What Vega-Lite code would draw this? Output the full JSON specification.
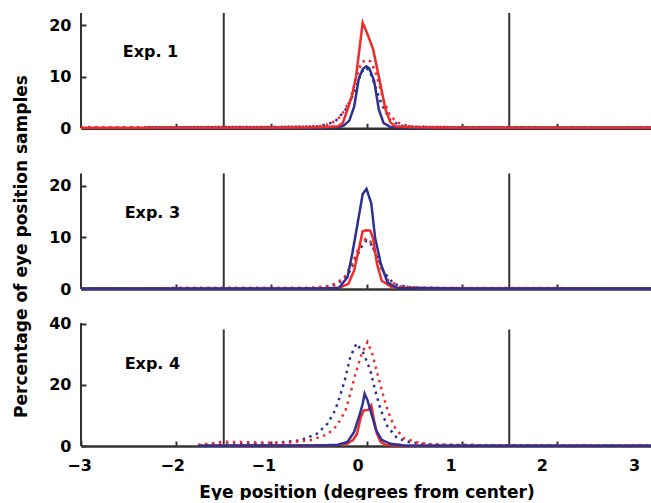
{
  "$schema": "https://vega.github.io/schema/vega-lite/v6.json",
  "padding": {"left": 12, "top": 12, "right": 0, "bottom": 0},
  "bounds": "flush",
  "spacing": 34,
  "resolve": {"scale": {"y": "independent"}},
  "datasets": {
    "rules": [
      {"p": 1, "x": -3, "y0": 0, "y1": 22.35}, {"p": 1, "x": -1.5, "y0": 0, "y1": 22.35}, {"p": 1, "x": 1.5, "y0": 0, "y1": 22.35},
      {"p": 2, "x": -3, "y0": 0, "y1": 22.4}, {"p": 2, "x": -1.5, "y0": 0, "y1": 22.4}, {"p": 2, "x": 1.5, "y0": 0, "y1": 22.4},
      {"p": 3, "x": -3, "y0": 0, "y1": 40.2}, {"p": 3, "x": -1.5, "y0": 0, "y1": 38.1}, {"p": 3, "x": 1.5, "y0": 0, "y1": 38.1}
    ],
    "labels": [
      {"p": 1, "x": -2.27, "y": 14.7, "t": "Exp. 1"},
      {"p": 2, "x": -2.25, "y": 14.8, "t": "Exp. 3"},
      {"p": 3, "x": -2.25, "y": 26.9, "t": "Exp. 4"}
    ],
    "curves": [
      {"p":1,"s":"rs","x":-3,"y":0.1},{"p":1,"s":"rs","x":-1,"y":0.1},{"p":1,"s":"rs","x":-0.5,"y":0.2},{"p":1,"s":"rs","x":-0.3,"y":0.4},{"p":1,"s":"rs","x":-0.25,"y":1},{"p":1,"s":"rs","x":-0.2,"y":3.6},{"p":1,"s":"rs","x":-0.15,"y":6.5},{"p":1,"s":"rs","x":-0.11,"y":10},{"p":1,"s":"rs","x":-0.08,"y":14.5},{"p":1,"s":"rs","x":-0.04,"y":20.5},{"p":1,"s":"rs","x":0.02,"y":17.8},{"p":1,"s":"rs","x":0.07,"y":15.3},{"p":1,"s":"rs","x":0.13,"y":10},{"p":1,"s":"rs","x":0.2,"y":3.6},{"p":1,"s":"rs","x":0.25,"y":1.2},{"p":1,"s":"rs","x":0.3,"y":0.4},{"p":1,"s":"rs","x":0.5,"y":0.2},{"p":1,"s":"rs","x":1,"y":0.1},{"p":1,"s":"rs","x":3,"y":0.1},
      {"p":1,"s":"bs","x":-2.3,"y":0.1},{"p":1,"s":"bs","x":-0.5,"y":0.1},{"p":1,"s":"bs","x":-0.3,"y":0.2},{"p":1,"s":"bs","x":-0.24,"y":0.5},{"p":1,"s":"bs","x":-0.18,"y":1.5},{"p":1,"s":"bs","x":-0.13,"y":4.2},{"p":1,"s":"bs","x":-0.08,"y":9.7},{"p":1,"s":"bs","x":-0.04,"y":11.5},{"p":1,"s":"bs","x":0,"y":12},{"p":1,"s":"bs","x":0.03,"y":11.6},{"p":1,"s":"bs","x":0.08,"y":9.2},{"p":1,"s":"bs","x":0.13,"y":3.6},{"p":1,"s":"bs","x":0.18,"y":1},{"p":1,"s":"bs","x":0.25,"y":0.3},{"p":1,"s":"bs","x":0.4,"y":0.1},{"p":1,"s":"bs","x":3,"y":0.1},
      {"p":1,"s":"rd","x":-3,"y":0.2},{"p":1,"s":"rd","x":-1,"y":0.25},{"p":1,"s":"rd","x":-0.5,"y":0.4},{"p":1,"s":"rd","x":-0.38,"y":0.8},{"p":1,"s":"rd","x":-0.27,"y":2.3},{"p":1,"s":"rd","x":-0.17,"y":5.5},{"p":1,"s":"rd","x":-0.105,"y":10},{"p":1,"s":"rd","x":-0.05,"y":12.8},{"p":1,"s":"rd","x":0,"y":13.3},{"p":1,"s":"rd","x":0.04,"y":13},{"p":1,"s":"rd","x":0.09,"y":11.2},{"p":1,"s":"rd","x":0.18,"y":5.5},{"p":1,"s":"rd","x":0.25,"y":2.3},{"p":1,"s":"rd","x":0.36,"y":0.8},{"p":1,"s":"rd","x":0.5,"y":0.3},{"p":1,"s":"rd","x":1,"y":0.2},{"p":1,"s":"rd","x":3,"y":0.15},
      {"p":1,"s":"bd","x":-2.3,"y":0.2},{"p":1,"s":"bd","x":-1,"y":0.25},{"p":1,"s":"bd","x":-0.5,"y":0.35},{"p":1,"s":"bd","x":-0.33,"y":1.3},{"p":1,"s":"bd","x":-0.22,"y":3.6},{"p":1,"s":"bd","x":-0.13,"y":6.8},{"p":1,"s":"bd","x":-0.06,"y":10.5},{"p":1,"s":"bd","x":-0.02,"y":11.7},{"p":1,"s":"bd","x":0.03,"y":11.3},{"p":1,"s":"bd","x":0.09,"y":8.2},{"p":1,"s":"bd","x":0.16,"y":4.6},{"p":1,"s":"bd","x":0.25,"y":1.6},{"p":1,"s":"bd","x":0.36,"y":0.5},{"p":1,"s":"bd","x":0.5,"y":0.3},{"p":1,"s":"bd","x":1,"y":0.2},{"p":1,"s":"bd","x":3,"y":0.15},

      {"p":2,"s":"bs","x":-3,"y":0.1},{"p":2,"s":"bs","x":-0.5,"y":0.1},{"p":2,"s":"bs","x":-0.29,"y":0.2},{"p":2,"s":"bs","x":-0.2,"y":2.3},{"p":2,"s":"bs","x":-0.15,"y":6.8},{"p":2,"s":"bs","x":-0.1,"y":12},{"p":2,"s":"bs","x":-0.04,"y":18.4},{"p":2,"s":"bs","x":0,"y":19.4},{"p":2,"s":"bs","x":0.05,"y":16.6},{"p":2,"s":"bs","x":0.09,"y":10},{"p":2,"s":"bs","x":0.15,"y":4.9},{"p":2,"s":"bs","x":0.22,"y":1.3},{"p":2,"s":"bs","x":0.32,"y":0.2},{"p":2,"s":"bs","x":1,"y":0.1},{"p":2,"s":"bs","x":3,"y":0.1},
      {"p":2,"s":"rs","x":-3,"y":0.1},{"p":2,"s":"rs","x":-0.5,"y":0.1},{"p":2,"s":"rs","x":-0.28,"y":0.3},{"p":2,"s":"rs","x":-0.19,"y":1},{"p":2,"s":"rs","x":-0.13,"y":3.6},{"p":2,"s":"rs","x":-0.08,"y":7.8},{"p":2,"s":"rs","x":-0.04,"y":11.2},{"p":2,"s":"rs","x":0,"y":11.4},{"p":2,"s":"rs","x":0.04,"y":11.3},{"p":2,"s":"rs","x":0.07,"y":9.7},{"p":2,"s":"rs","x":0.11,"y":4.9},{"p":2,"s":"rs","x":0.16,"y":1.6},{"p":2,"s":"rs","x":0.27,"y":0.3},{"p":2,"s":"rs","x":1,"y":0.1},{"p":2,"s":"rs","x":3,"y":0.1},
      {"p":2,"s":"rd","x":-3,"y":0.15},{"p":2,"s":"rd","x":-0.6,"y":0.2},{"p":2,"s":"rd","x":-0.38,"y":0.6},{"p":2,"s":"rd","x":-0.24,"y":2},{"p":2,"s":"rd","x":-0.15,"y":4.9},{"p":2,"s":"rd","x":-0.08,"y":8.1},{"p":2,"s":"rd","x":-0.01,"y":9.7},{"p":2,"s":"rd","x":0.04,"y":9.2},{"p":2,"s":"rd","x":0.08,"y":7.4},{"p":2,"s":"rd","x":0.15,"y":4.2},{"p":2,"s":"rd","x":0.23,"y":1.6},{"p":2,"s":"rd","x":0.36,"y":0.5},{"p":2,"s":"rd","x":0.6,"y":0.2},{"p":2,"s":"rd","x":3,"y":0.15},
      {"p":2,"s":"bd","x":-3,"y":0.15},{"p":2,"s":"bd","x":-0.5,"y":0.2},{"p":2,"s":"bd","x":-0.31,"y":0.9},{"p":2,"s":"bd","x":-0.2,"y":2.6},{"p":2,"s":"bd","x":-0.12,"y":5.5},{"p":2,"s":"bd","x":-0.06,"y":8},{"p":2,"s":"bd","x":0,"y":9.4},{"p":2,"s":"bd","x":0.05,"y":8.6},{"p":2,"s":"bd","x":0.11,"y":6.5},{"p":2,"s":"bd","x":0.18,"y":3.3},{"p":2,"s":"bd","x":0.29,"y":0.9},{"p":2,"s":"bd","x":0.47,"y":0.3},{"p":2,"s":"bd","x":1,"y":0.15},{"p":2,"s":"bd","x":3,"y":0.15},

      {"p":3,"s":"bd","x":-1.77,"y":0.3},{"p":3,"s":"bd","x":-1.4,"y":0.5},{"p":3,"s":"bd","x":-1.22,"y":0.7},{"p":3,"s":"bd","x":-0.94,"y":1.1},{"p":3,"s":"bd","x":-0.69,"y":1.9},{"p":3,"s":"bd","x":-0.52,"y":4},{"p":3,"s":"bd","x":-0.41,"y":7.3},{"p":3,"s":"bd","x":-0.33,"y":11.6},{"p":3,"s":"bd","x":-0.27,"y":17.1},{"p":3,"s":"bd","x":-0.22,"y":22.5},{"p":3,"s":"bd","x":-0.17,"y":29.1},{"p":3,"s":"bd","x":-0.105,"y":33.5},{"p":3,"s":"bd","x":-0.03,"y":30.2},{"p":3,"s":"bd","x":0.04,"y":24.8},{"p":3,"s":"bd","x":0.09,"y":18.3},{"p":3,"s":"bd","x":0.15,"y":11.8},{"p":3,"s":"bd","x":0.22,"y":6.4},{"p":3,"s":"bd","x":0.32,"y":2.6},{"p":3,"s":"bd","x":0.46,"y":1.2},{"p":3,"s":"bd","x":0.64,"y":0.5},{"p":3,"s":"bd","x":1,"y":0.3},{"p":3,"s":"bd","x":2,"y":0.2},{"p":3,"s":"bd","x":3,"y":0.2},
      {"p":3,"s":"rd","x":-1.77,"y":0.3},{"p":3,"s":"rd","x":-1.5,"y":1.4},{"p":3,"s":"rd","x":-1.2,"y":1.2},{"p":3,"s":"rd","x":-0.87,"y":1},{"p":3,"s":"rd","x":-0.59,"y":1.9},{"p":3,"s":"rd","x":-0.41,"y":3.8},{"p":3,"s":"rd","x":-0.31,"y":6.7},{"p":3,"s":"rd","x":-0.22,"y":11.6},{"p":3,"s":"rd","x":-0.17,"y":17.1},{"p":3,"s":"rd","x":-0.115,"y":23.7},{"p":3,"s":"rd","x":-0.05,"y":30.2},{"p":3,"s":"rd","x":0.01,"y":34},{"p":3,"s":"rd","x":0.06,"y":30.2},{"p":3,"s":"rd","x":0.11,"y":24.2},{"p":3,"s":"rd","x":0.16,"y":18.3},{"p":3,"s":"rd","x":0.22,"y":11.8},{"p":3,"s":"rd","x":0.29,"y":6.4},{"p":3,"s":"rd","x":0.39,"y":2.6},{"p":3,"s":"rd","x":0.53,"y":1.2},{"p":3,"s":"rd","x":0.67,"y":0.5},{"p":3,"s":"rd","x":1,"y":0.3},{"p":3,"s":"rd","x":2,"y":0.2},{"p":3,"s":"rd","x":3,"y":0.2},
      {"p":3,"s":"rs","x":-1.77,"y":0.1},{"p":3,"s":"rs","x":-0.5,"y":0.2},{"p":3,"s":"rs","x":-0.3,"y":0.3},{"p":3,"s":"rs","x":-0.2,"y":0.8},{"p":3,"s":"rs","x":-0.14,"y":2},{"p":3,"s":"rs","x":-0.1,"y":4},{"p":3,"s":"rs","x":-0.06,"y":9.4},{"p":3,"s":"rs","x":-0.03,"y":11.6},{"p":3,"s":"rs","x":0.02,"y":11.8},{"p":3,"s":"rs","x":0.05,"y":13.3},{"p":3,"s":"rs","x":0.08,"y":8.3},{"p":3,"s":"rs","x":0.11,"y":4},{"p":3,"s":"rs","x":0.15,"y":1.3},{"p":3,"s":"rs","x":0.2,"y":0.4},{"p":3,"s":"rs","x":0.35,"y":0.2},{"p":3,"s":"rs","x":1,"y":0.1},{"p":3,"s":"rs","x":3,"y":0.1},
      {"p":3,"s":"bs","x":-1.77,"y":0.1},{"p":3,"s":"bs","x":-0.5,"y":0.2},{"p":3,"s":"bs","x":-0.3,"y":0.4},{"p":3,"s":"bs","x":-0.2,"y":1.3},{"p":3,"s":"bs","x":-0.13,"y":4.6},{"p":3,"s":"bs","x":-0.08,"y":9.4},{"p":3,"s":"bs","x":-0.04,"y":13.8},{"p":3,"s":"bs","x":-0.02,"y":17.1},{"p":3,"s":"bs","x":0.01,"y":15},{"p":3,"s":"bs","x":0.05,"y":10.7},{"p":3,"s":"bs","x":0.1,"y":5.2},{"p":3,"s":"bs","x":0.16,"y":2},{"p":3,"s":"bs","x":0.25,"y":0.7},{"p":3,"s":"bs","x":0.4,"y":0.2},{"p":3,"s":"bs","x":1,"y":0.1},{"p":3,"s":"bs","x":3,"y":0.1}
    ]
  },
  "vconcat": [
    {
      "width": 571, "height": 115.3,
      "layer": [
        {"data": {"name": "rules"}, "transform": [{"filter": "datum.p==1"}],
         "mark": {"type": "rule", "color": "#333", "strokeWidth": 2},
         "encoding": {
           "x": {"field": "x", "type": "quantitative", "scale": {"domain": [-3, 3], "nice": false, "zero": false}, "axis": {"values": [-2, -1, 0, 1, 2], "labels": false, "tickSize": -5, "title": null}},
           "y": {"field": "y0", "type": "quantitative", "scale": {"domain": [0, 22.35], "nice": false}, "axis": {"values": [0, 10, 20], "domain": false, "tickSize": -5, "labelPadding": 15, "title": null}},
           "y2": {"field": "y1"}}},
        {"data": {"name": "curves"}, "transform": [{"filter": "datum.p==1 && datum.s=='bd'"}], "mark": {"type": "line", "color": "#2e3192", "strokeWidth": 2.5, "strokeDash": [2.5, 4.5]}, "encoding": {"x": {"field": "x", "type": "quantitative"}, "y": {"field": "y", "type": "quantitative"}}},
        {"data": {"name": "curves"}, "transform": [{"filter": "datum.p==1 && datum.s=='rd'"}], "mark": {"type": "line", "color": "#ee2c2c", "strokeWidth": 2.5, "strokeDash": [2.5, 4.5]}, "encoding": {"x": {"field": "x", "type": "quantitative"}, "y": {"field": "y", "type": "quantitative"}}},
        {"data": {"name": "curves"}, "transform": [{"filter": "datum.p==1 && datum.s=='bs'"}], "mark": {"type": "line", "color": "#2e3192", "strokeWidth": 2.5}, "encoding": {"x": {"field": "x", "type": "quantitative"}, "y": {"field": "y", "type": "quantitative"}}},
        {"data": {"name": "curves"}, "transform": [{"filter": "datum.p==1 && datum.s=='rs'"}], "mark": {"type": "line", "color": "#ee2c2c", "strokeWidth": 2.5}, "encoding": {"x": {"field": "x", "type": "quantitative"}, "y": {"field": "y", "type": "quantitative"}}},
        {"data": {"name": "labels"}, "transform": [{"filter": "datum.p==1"}], "mark": {"type": "text", "font": "DejaVu Sans", "fontWeight": "bold", "fontSize": 16, "align": "center", "baseline": "middle", "color": "#000"}, "encoding": {"x": {"field": "x", "type": "quantitative"}, "y": {"field": "y", "type": "quantitative"}, "text": {"field": "t"}}}
      ]
    },
    {
      "width": 571, "height": 126,
      "layer": [
        {"data": {"name": "rules"}, "transform": [{"filter": "datum.p==2"}],
         "mark": {"type": "rule", "color": "#333", "strokeWidth": 2},
         "encoding": {
           "x": {"field": "x", "type": "quantitative", "scale": {"domain": [-3, 3], "nice": false, "zero": false}, "axis": {"values": [-2, -1, 0, 1, 2], "labels": false, "tickSize": -5, "title": null}},
           "y": {"field": "y0", "type": "quantitative", "scale": {"domain": [0, 24.42], "nice": false}, "axis": {"values": [0, 10, 20], "domain": false, "tickSize": -5, "labelPadding": 15, "title": "Percentage of eye position samples", "titleFontSize": 17, "titlePadding": 18, "titleY": 83, "titleAlign": "center"}},
           "y2": {"field": "y1"}}},
        {"data": {"name": "curves"}, "transform": [{"filter": "datum.p==2 && datum.s=='bd'"}], "mark": {"type": "line", "color": "#2e3192", "strokeWidth": 2.5, "strokeDash": [2.5, 4.5]}, "encoding": {"x": {"field": "x", "type": "quantitative"}, "y": {"field": "y", "type": "quantitative"}}},
        {"data": {"name": "curves"}, "transform": [{"filter": "datum.p==2 && datum.s=='rd'"}], "mark": {"type": "line", "color": "#ee2c2c", "strokeWidth": 2.5, "strokeDash": [2.5, 4.5]}, "encoding": {"x": {"field": "x", "type": "quantitative"}, "y": {"field": "y", "type": "quantitative"}}},
        {"data": {"name": "curves"}, "transform": [{"filter": "datum.p==2 && datum.s=='rs'"}], "mark": {"type": "line", "color": "#ee2c2c", "strokeWidth": 2.5}, "encoding": {"x": {"field": "x", "type": "quantitative"}, "y": {"field": "y", "type": "quantitative"}}},
        {"data": {"name": "curves"}, "transform": [{"filter": "datum.p==2 && datum.s=='bs'"}], "mark": {"type": "line", "color": "#2e3192", "strokeWidth": 2.5}, "encoding": {"x": {"field": "x", "type": "quantitative"}, "y": {"field": "y", "type": "quantitative"}}},
        {"data": {"name": "labels"}, "transform": [{"filter": "datum.p==2"}], "mark": {"type": "text", "font": "DejaVu Sans", "fontWeight": "bold", "fontSize": 16, "align": "center", "baseline": "middle", "color": "#000"}, "encoding": {"x": {"field": "x", "type": "quantitative"}, "y": {"field": "y", "type": "quantitative"}, "text": {"field": "t"}}}
      ]
    },
    {
      "width": 571, "height": 123,
      "layer": [
        {"data": {"name": "rules"}, "transform": [{"filter": "datum.p==3"}],
         "mark": {"type": "rule", "color": "#333", "strokeWidth": 2},
         "encoding": {
           "x": {"field": "x", "type": "quantitative", "scale": {"domain": [-3, 3], "nice": false, "zero": false}, "axis": {"values": [-3, -2, -1, 0, 1, 2, 3], "format": "d", "labelFlush": false, "tickSize": -5, "labelPadding": 16, "title": "Eye position (degrees from center)", "titleFontSize": 17, "titlePadding": 11,
             "labelOffset": {"condition": [{"test": "datum.value==-3", "value": -2}, {"test": "datum.value==-2", "value": -4}, {"test": "datum.value==-1", "value": -8}, {"test": "datum.value==1", "value": -11}, {"test": "datum.value==2", "value": -15}, {"test": "datum.value==3", "value": -18}], "value": -9}}},
           "y": {"field": "y0", "type": "quantitative", "scale": {"domain": [0, 40.2], "nice": false}, "axis": {"values": [0, 20, 40], "domain": false, "tickSize": -5, "labelPadding": 15, "title": null}},
           "y2": {"field": "y1"}}},
        {"data": {"name": "curves"}, "transform": [{"filter": "datum.p==3 && datum.s=='bd'"}], "mark": {"type": "line", "color": "#2e3192", "strokeWidth": 2.5, "strokeDash": [2.5, 4.5]}, "encoding": {"x": {"field": "x", "type": "quantitative"}, "y": {"field": "y", "type": "quantitative"}}},
        {"data": {"name": "curves"}, "transform": [{"filter": "datum.p==3 && datum.s=='rd'"}], "mark": {"type": "line", "color": "#ee2c2c", "strokeWidth": 2.5, "strokeDash": [2.5, 4.5]}, "encoding": {"x": {"field": "x", "type": "quantitative"}, "y": {"field": "y", "type": "quantitative"}}},
        {"data": {"name": "curves"}, "transform": [{"filter": "datum.p==3 && datum.s=='rs'"}], "mark": {"type": "line", "color": "#ee2c2c", "strokeWidth": 2.5}, "encoding": {"x": {"field": "x", "type": "quantitative"}, "y": {"field": "y", "type": "quantitative"}}},
        {"data": {"name": "curves"}, "transform": [{"filter": "datum.p==3 && datum.s=='bs'"}], "mark": {"type": "line", "color": "#2e3192", "strokeWidth": 2.5}, "encoding": {"x": {"field": "x", "type": "quantitative"}, "y": {"field": "y", "type": "quantitative"}}},
        {"data": {"name": "labels"}, "transform": [{"filter": "datum.p==3"}], "mark": {"type": "text", "font": "DejaVu Sans", "fontWeight": "bold", "fontSize": 16, "align": "center", "baseline": "middle", "color": "#000"}, "encoding": {"x": {"field": "x", "type": "quantitative"}, "y": {"field": "y", "type": "quantitative"}, "text": {"field": "t"}}}
      ]
    }
  ],
  "config": {
    "view": {"stroke": null},
    "axis": {"labelFont": "DejaVu Sans", "labelFontWeight": "bold", "labelFontSize": 16, "labelColor": "#000", "titleFont": "DejaVu Sans", "titleFontWeight": "bold", "titleFontSize": 16, "titleColor": "#000", "tickColor": "#333", "tickWidth": 2, "domainColor": "#333", "domainWidth": 2.5, "grid": false}
  }
}
